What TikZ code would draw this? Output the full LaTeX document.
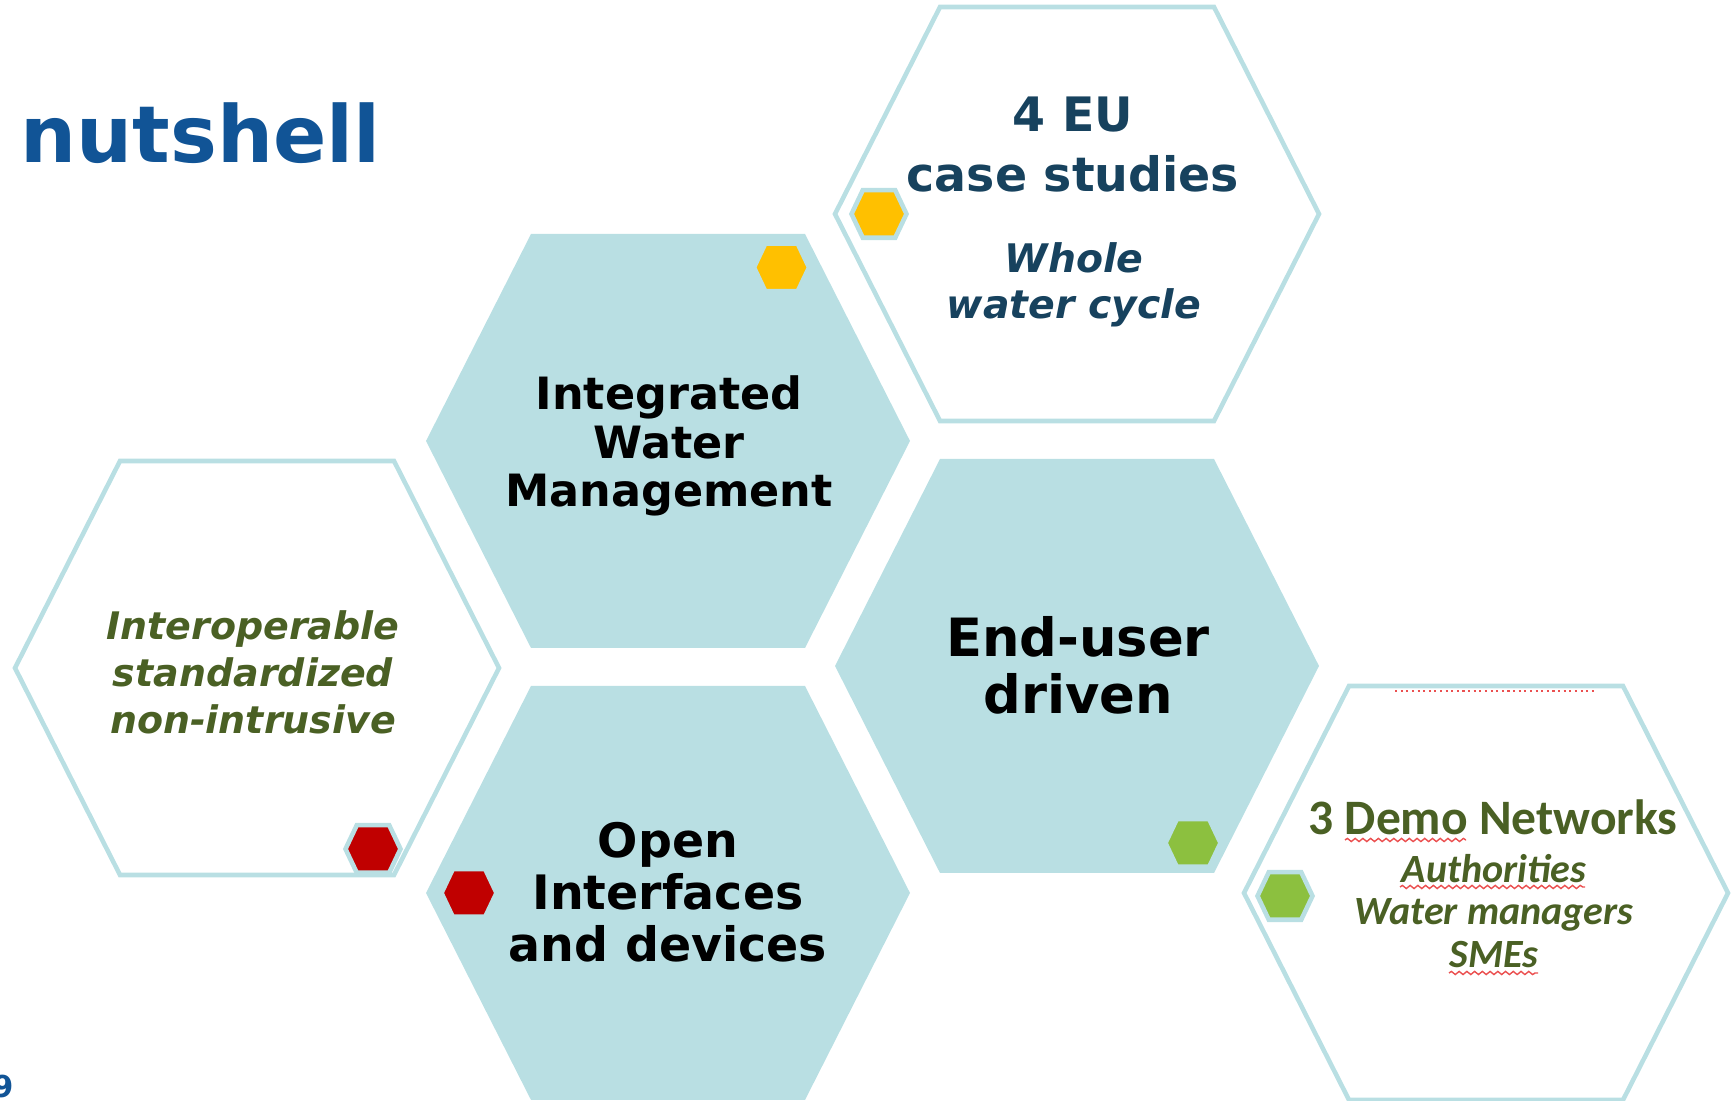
\documentclass[tikz,border=0pt]{standalone}
\usepackage{fontspec}
\usepackage{xcolor}
\usetikzlibrary{calc,decorations.pathmorphing}
\newfontfamily\verd{DejaVu Sans}
\newfontfamily\calib{Carlito}
\definecolor{hexblue}{RGB}{185,223,227}
\definecolor{titleblue}{RGB}{17,84,150}
\definecolor{inkteal}{RGB}{23,66,94}
\definecolor{inkgreen}{RGB}{74,96,36}
\definecolor{dotyellow}{RGB}{255,192,0}
\definecolor{dotred}{RGB}{192,0,0}
\definecolor{dotgreen}{RGB}{140,192,63}
\definecolor{spellred}{RGB}{235,80,80}
\tikzset{
	cell/.pic={\path[pic actions] (-2.42,0) -- (-1.37,2.07) -- (1.37,2.07) -- (2.42,0) -- (1.37,-2.07) -- (-1.37,-2.07) -- cycle;},
	badge/.pic={\path[pic actions] (-0.275,0) -- (-0.162,0.238) -- (0.162,0.238) -- (0.275,0) -- (0.162,-0.238) -- (-0.162,-0.238) -- cycle;},
	fullcell/.style={fill=hexblue},
	emptycell/.style={draw=hexblue, line width=1.3pt},
	dot/.style={draw=hexblue, line width=1.3pt, fill=#1},
	celltext/.style={inner sep=0pt, align=center},
	spell/.style={spellred, line width=0.4pt, decorate, decoration={snake, amplitude=0.45pt, segment length=2.2pt}}
}

\begin{document}
\begin{tikzpicture}
	\useasboundingbox (0,0) rectangle (17.32,11.01);

	% title and page number
	\node[anchor=base west, inner sep=0pt, text=titleblue, font={\verd\bfseries\fontsize{22.4}{26}\selectfont}] (title) at (0.2,9.38) {nutshell};
	\node[anchor=base east, inner sep=0pt, text=titleblue, font={\verd\bfseries\fontsize{8.6}{10}\selectfont}] (page) at (0.14,0.03) {9};

	% honeycomb centres
	\coordinate (lh) at (2.57,4.33);
	\coordinate (iw) at (6.68,6.60);
	\coordinate (oi) at (6.68,2.08);
	\coordinate (cs) at (10.77,8.87);
	\coordinate (ud) at (10.77,4.35);
	\coordinate (dn) at (14.86,2.08);

	% cells
	\pic[fullcell] at (iw) {cell};
	\pic[fullcell] at (oi) {cell};
	\pic[fullcell] at (ud) {cell};
	\pic[emptycell] at (lh) {cell};
	\pic[emptycell] at (cs) {cell};
	\pic[emptycell] at (dn) {cell};

	% small coloured badges
	\pic[dot=dotyellow] at ($(cs)+(-1.98,0)$) {badge};
	\pic[dot=dotyellow] at ($(iw)+(1.135,1.735)$) {badge};
	\pic[dot=dotred] at ($(lh)+(1.16,-1.81)$) {badge};
	\pic[dot=dotred] at ($(oi)+(-1.99,0)$) {badge};
	\pic[dot=dotgreen] at ($(ud)+(1.16,-1.77)$) {badge};
	\pic[dot=dotgreen] at ($(dn)+(-2.01,-0.03)$) {badge};

	% texts in the filled cells
	\node[celltext, font={\verd\bfseries\fontsize{12.66}{13.8}\selectfont}] (iwtext) at (6.69,6.55) {Integrated\\Water\\Management};
	\node[celltext, font={\verd\bfseries\fontsize{13.5}{14.8}\selectfont}] (oitext) at (6.68,2.09) {Open\\Interfaces\\and devices};
	\node[celltext, font={\verd\bfseries\fontsize{15}{16.2}\selectfont}] (udtext) at (10.78,4.36) {End-user\\driven};

	% texts in the open cells
	\node[celltext, text=inkteal, font={\verd\bfseries\fontsize{13.5}{17.1}\selectfont}] (cstitle) at (10.73,9.56) {4 EU\\case studies};
	\node[celltext, text=inkteal, font={\verd\bfseries\itshape\fontsize{11.2}{13.1}\selectfont}] (cssub) at (10.74,8.16) {Whole\\water cycle};
	\node[celltext, text=inkgreen, font={\verd\bfseries\itshape\fontsize{10.8}{13.4}\selectfont}] (lhtext) at (2.53,4.29) {Interoperable\\standardized\\non-intrusive};
	\node[anchor=base, inner sep=0pt, text=inkgreen, font={\calib\bfseries\fontsize{14.1}{16}\selectfont}] (dntitle) at (14.93,2.66) {3 Demo Networks};
	\node[celltext, text=inkgreen, font={\calib\bfseries\itshape\fontsize{11.4}{12.2}\selectfont}] (dnsub) at (14.94,1.90) {Authorities\\Water managers\\SMEs};

	% spell check marks
	\draw[spell] (13.45,2.61) -- (14.66,2.61);
	\draw[spell] (14.00,2.14) -- (15.85,2.14);
	\draw[spell] (14.49,1.28) -- (15.38,1.28);
	\draw[spellred, line width=0.6pt, densely dotted] (13.95,4.10) -- (15.96,4.10);
\end{tikzpicture}
\end{document}
